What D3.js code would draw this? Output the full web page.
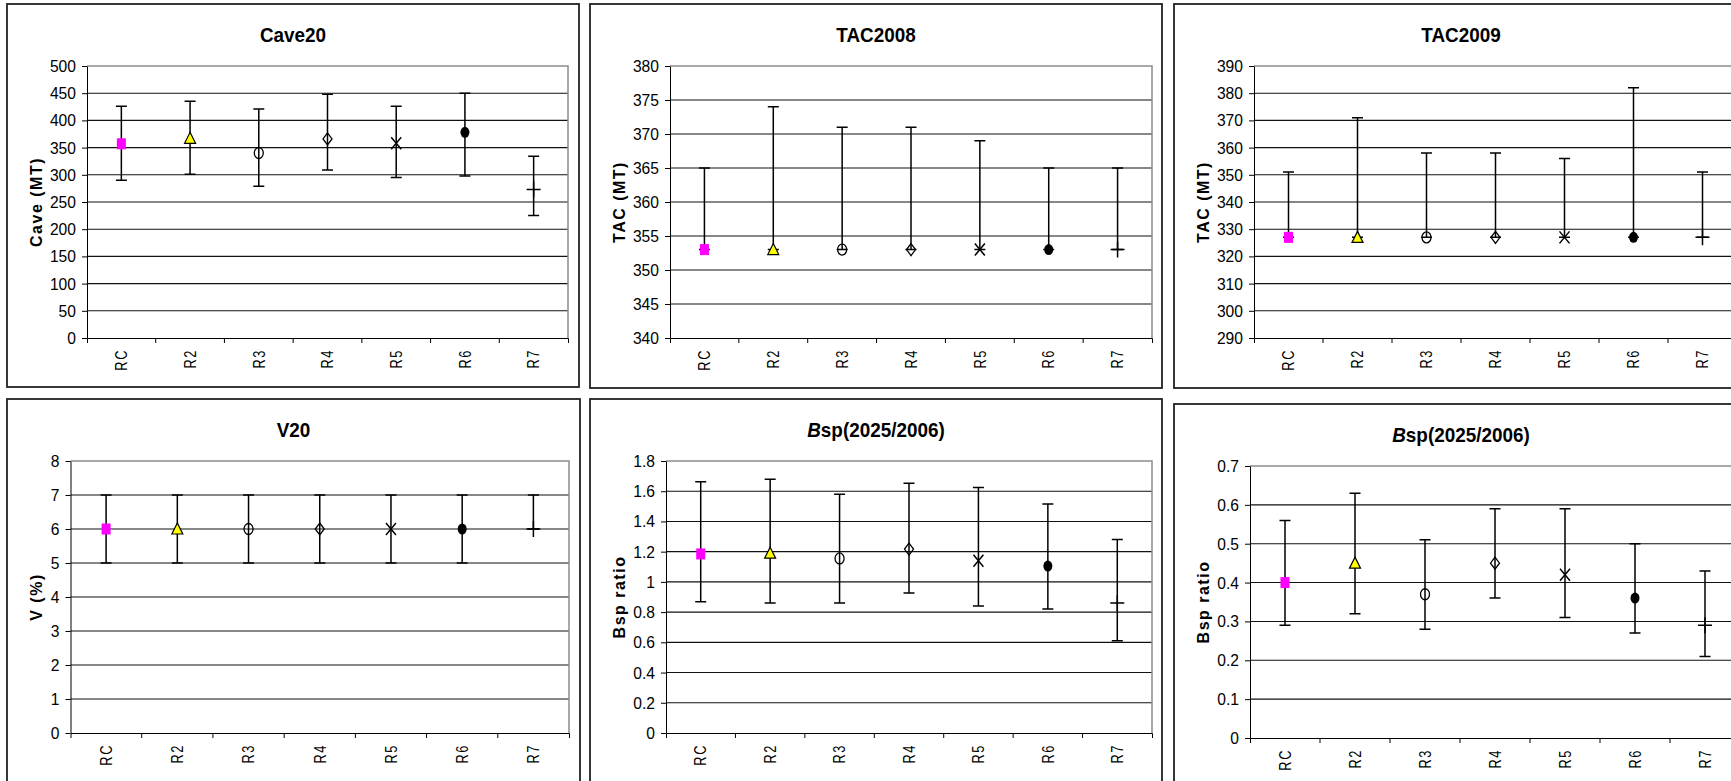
<!DOCTYPE html>
<html>
<head>
<meta charset="utf-8">
<script src="https://cdn.jsdelivr.net/npm/d3@7"></script>
<style>
  body { margin: 0; background: #fff; }
  svg { display: block; font-family: "Liberation Sans", Arial, sans-serif; }
</style>
</head>
<body>
<svg id="chart" width="1731" height="781"></svg>
<script>
(function () {
    // categories shared by all six panels
    const categories = ["RC", "R2", "R3", "R4", "R5", "R6", "R7"];

    // Cave20
    const cave20Mean = [357, 367, 340, 366, 358, 378, 273];
    const cave20Low = [290, 301, 279, 309, 295, 298, 225];
    const cave20High = [426, 435, 421, 448, 426, 450, 334];
    const cave20Ticks = [0, 50, 100, 150, 200, 250, 300, 350, 400, 450, 500];

    // TAC2008
    const tac2008Mean = [353, 353, 353, 353, 353, 353, 353];
    const tac2008Low = [353, 353, 353, 353, 353, 353, 353];
    const tac2008High = [365, 374, 371, 371, 369, 365, 365];
    const tac2008Ticks = [340, 345, 350, 355, 360, 365, 370, 375, 380];

    // TAC2009
    const tac2009Mean = [327, 327, 327, 327, 327, 327, 327];
    const tac2009Low = [327, 327, 327, 327, 327, 327, 327];
    const tac2009High = [351, 371, 358, 358, 356, 382, 351];
    const tac2009Ticks = [290, 300, 310, 320, 330, 340, 350, 360, 370, 380, 390];

    // V20
    const v20Mean = [6, 6, 6, 6, 6, 6, 6];
    const v20Low = [5, 5, 5, 5, 5, 5, 6];
    const v20High = [7, 7, 7, 7, 7, 7, 7];
    const v20Ticks = [0, 1, 2, 3, 4, 5, 6, 7, 8];

    // Bsp(2025/2006), first panel
    const bspAMean = [1.185, 1.19, 1.155, 1.217, 1.14, 1.105, 0.86];
    const bspALow = [0.868, 0.86, 0.86, 0.926, 0.84, 0.82, 0.61];
    const bspAHigh = [1.663, 1.68, 1.58, 1.652, 1.624, 1.516, 1.28];
    const bspATicks = [0, 0.2, 0.4, 0.6, 0.8, 1, 1.2, 1.4, 1.6, 1.8];

    // Bsp(2025/2006), second panel
    const bspBMean = [0.40, 0.45, 0.37, 0.45, 0.42, 0.36, 0.29];
    const bspBLow = [0.29, 0.32, 0.28, 0.36, 0.31, 0.27, 0.21];
    const bspBHigh = [0.56, 0.63, 0.51, 0.59, 0.59, 0.50, 0.43];
    const bspBTicks = [0, 0.1, 0.2, 0.3, 0.4, 0.5, 0.6, 0.7];

    const panels = [
        { title: "Cave20", ylabel: "Cave (MT)", mean: cave20Mean, low: cave20Low, high: cave20High, ticks: cave20Ticks,
          x: 7, y: 4, w: 572, h: 383, left: 80, plotW: 481 },
        { title: "TAC2008", ylabel: "TAC (MT)", mean: tac2008Mean, low: tac2008Low, high: tac2008High, ticks: tac2008Ticks,
          x: 590, y: 4, w: 572, h: 384, left: 80, plotW: 482 },
        { title: "TAC2009", ylabel: "TAC (MT)", mean: tac2009Mean, low: tac2009Low, high: tac2009High, ticks: tac2009Ticks,
          x: 1174, y: 4, w: 574, h: 384, left: 80, plotW: 483 },
        { title: "V20", ylabel: "V (%)", mean: v20Mean, low: v20Low, high: v20High, ticks: v20Ticks,
          x: 7, y: 399, w: 573, h: 384, left: 63.5, plotW: 498.5 },
        { title: "Bsp", ylabel: "Bsp ratio", mean: bspAMean, low: bspALow, high: bspAHigh, ticks: bspATicks,
          x: 590, y: 399, w: 572, h: 384, left: 76, plotW: 486 },
        { title: "Bsp", ylabel: "Bsp ratio", mean: bspBMean, low: bspBLow, high: bspBHigh, ticks: bspBTicks,
          x: 1174, y: 404, w: 574, h: 384, left: 76, plotW: 490 }
    ];

    const plotTop = 62, plotH = 272;
    const svg = d3.select("#chart");
    svg.append("rect").attr("width", 1731).attr("height", 781).attr("fill", "#fff");

    const fmt = (d) => String(+d.toFixed(2));

    panels.forEach((p) => {
        const g = svg.append("g").attr("transform", `translate(${p.x},${p.y})`);

        g.append("rect")
            .attr("x", 0).attr("y", 0)
            .attr("width", p.w).attr("height", p.h)
            .attr("fill", "none")
            .attr("stroke", "#222")
            .attr("stroke-width", 1.8);

        // title, the Bsp ones have an italic B (text is a little narrow in the original)
        const title = g.append("text")
            .attr("transform", `translate(${p.w / 2},38) scale(0.9,1)`)
            .attr("text-anchor", "middle")
            .style("font-size", "21px")
            .style("font-weight", "bold");
        if (p.title === "Bsp") {
            title.append("tspan").style("font-style", "italic").text("B");
            title.append("tspan").text("sp(2025/2006)");
        } else {
            title.text(p.title);
        }

        const chart = g.append("g").attr("transform", `translate(${p.left},${plotTop})`);

        const y = d3.scaleLinear()
            .domain(d3.extent(p.ticks))
            .range([plotH, 0]);
        const x = d3.scaleBand()
            .domain(categories)
            .range([0, p.plotW]);

        // gridlines
        chart.append("g")
            .selectAll("line")
            .data(p.ticks.slice(1, -1))
            .enter()
            .append("line")
            .attr("x1", 0).attr("x2", p.plotW)
            .attr("y1", (d) => y(d)).attr("y2", (d) => y(d))
            .attr("stroke", "#111")
            .attr("stroke-width", 1.1);

        // plot area border (grey top / right)
        chart.append("path")
            .attr("d", `M0,${y(p.ticks[p.ticks.length - 1])}H${p.plotW}V${plotH}`)
            .attr("fill", "none")
            .attr("stroke", "#8c8c8c")
            .attr("stroke-width", 1.5);

        // y axis
        const yAxis = chart.append("g")
            .call(d3.axisLeft(y).tickValues(p.ticks).tickSize(5).tickSizeOuter(0).tickPadding(6).tickFormat(fmt));
        yAxis.selectAll("text")
            .attr("x", 0)
            .attr("transform", "translate(-11,0) scale(0.92,1)")
            .style("font-size", "17px")
            .attr("fill", "#000");
        yAxis.selectAll("line, path").attr("stroke", "#000");

        // x axis with ticks between categories
        const xAxis = chart.append("g")
            .attr("transform", `translate(0,${plotH})`)
            .call(d3.axisBottom(x).tickSize(0).tickSizeOuter(5));
        xAxis.select(".domain").attr("stroke", "#000");
        xAxis.selectAll("text")
            .attr("transform", "rotate(-90) scale(0.8,1)")
            .attr("x", -11 / 0.8).attr("y", 0).attr("dy", "0.36em")
            .style("text-anchor", "end")
            .style("font-size", "16px")
            .style("letter-spacing", "2px")
            .attr("fill", "#000");
        xAxis.append("g")
            .selectAll("line")
            .data(categories.slice(1))
            .enter()
            .append("line")
            .attr("x1", (d) => x(d)).attr("x2", (d) => x(d))
            .attr("y1", 0).attr("y2", 5)
            .attr("stroke", "#000");

        // y label
        g.append("text")
            .attr("transform", `translate(29,${plotTop + plotH / 2}) rotate(-90)`)
            .attr("text-anchor", "middle")
            .attr("dy", "0.35em")
            .style("font-size", "16px")
            .style("font-weight", "bold")
            .style("letter-spacing", "1.5px")
            .text(p.ylabel);

        const cx = (i) => x(categories[i]) + x.bandwidth() / 2;

        // error bars
        const bars = chart.append("g")
            .attr("stroke", "#000")
            .attr("stroke-width", 1.5)
            .attr("fill", "none");
        bars.selectAll("path")
            .data(p.mean)
            .enter()
            .append("path")
            .attr("d", (d, i) => {
                const c = cx(i), hi = y(p.high[i]), lo = y(p.low[i]);
                return `M${c},${hi}V${lo}M${c - 5.5},${hi}H${c + 5.5}M${c - 5.5},${lo}H${c + 5.5}`;
            });

        // markers, one style per scenario
        const marks = chart.append("g");
        p.mean.forEach((d, i) => {
            const c = cx(i), m = y(d);
            if (i === 0) {
                marks.append("rect").attr("x", c - 4.5).attr("y", m - 5.5)
                    .attr("width", 9).attr("height", 11).attr("fill", "#ff00ff");
            } else if (i === 1) {
                marks.append("path").attr("d", `M${c},${m - 6}L${c + 5.5},${m + 5}L${c - 5.5},${m + 5}Z`)
                    .attr("fill", "#ffff00").attr("stroke", "#000").attr("stroke-width", 1.2);
            } else if (i === 2) {
                marks.append("ellipse").attr("cx", c).attr("cy", m).attr("rx", 4.5).attr("ry", 5.5)
                    .attr("fill", "none").attr("stroke", "#000").attr("stroke-width", 1.3);
            } else if (i === 3) {
                marks.append("path").attr("d", `M${c},${m - 6}L${c + 4.5},${m}L${c},${m + 6}L${c - 4.5},${m}Z`)
                    .attr("fill", "none").attr("stroke", "#000").attr("stroke-width", 1.3);
            } else if (i === 4) {
                marks.append("path").attr("d", `M${c - 5},${m - 6}L${c + 5},${m + 6}M${c + 5},${m - 6}L${c - 5},${m + 6}`)
                    .attr("fill", "none").attr("stroke", "#000").attr("stroke-width", 1.5);
            } else if (i === 5) {
                marks.append("ellipse").attr("cx", c).attr("cy", m).attr("rx", 4.5).attr("ry", 5.5)
                    .attr("fill", "#000");
            } else {
                marks.append("path").attr("d", `M${c - 7},${m}H${c + 7}M${c},${m - 8}V${m + 8}`)
                    .attr("fill", "none").attr("stroke", "#000").attr("stroke-width", 1.5);
            }
        });
    });
})();
</script>
</body>
</html>
